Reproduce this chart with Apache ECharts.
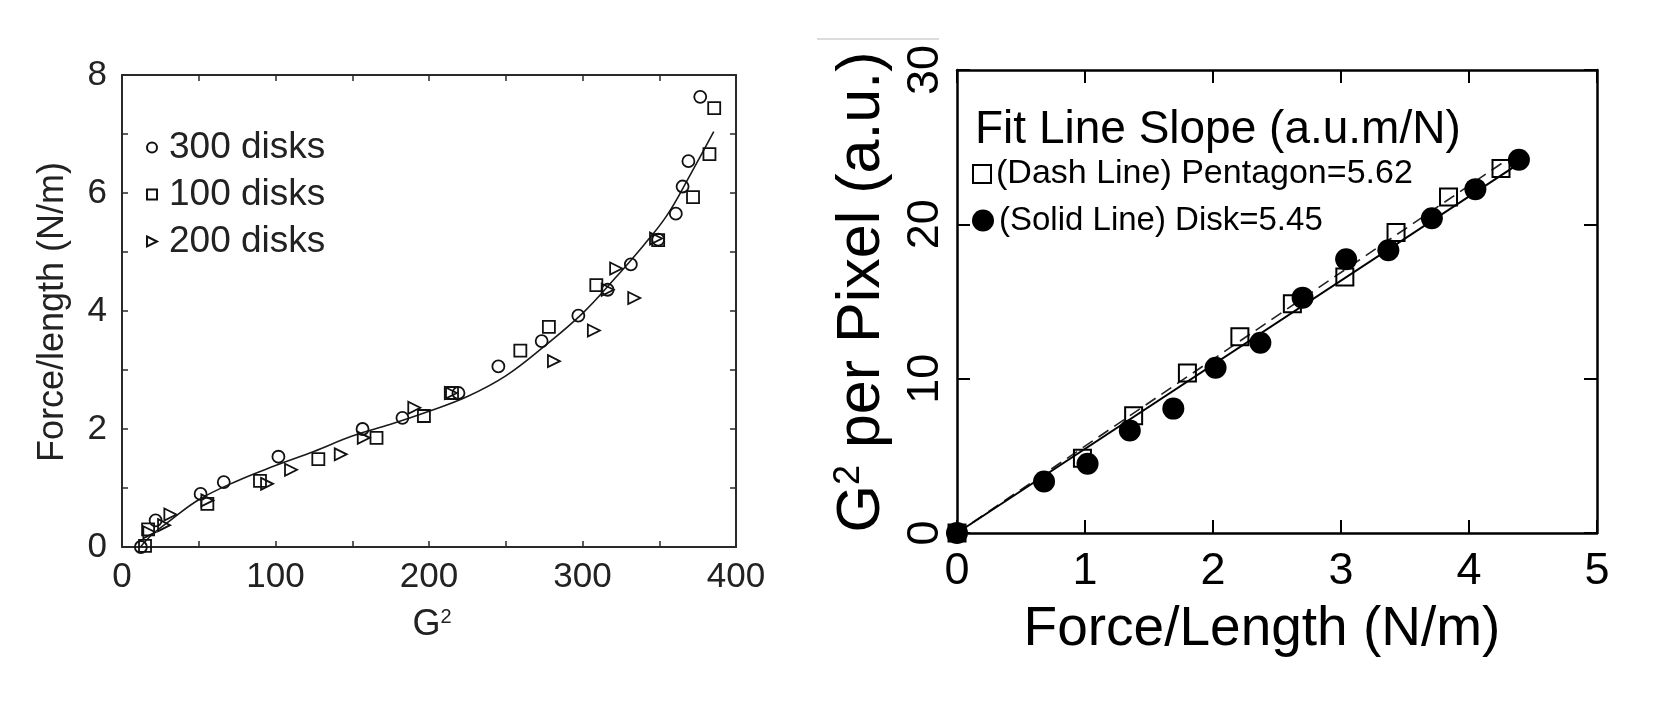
<!DOCTYPE html>
<html><head><meta charset="utf-8">
<script src="https://cdn.jsdelivr.net/npm/echarts@6/dist/echarts.min.js"></script>
<style>html,body{margin:0;padding:0;background:#fff}#c{width:1654px;height:709px}</style>
</head><body><div id="c"></div>
<script>
// ---------- data ----------
const leftXTicks = [0, 100, 200, 300, 400];
const leftYTicks = [0, 2, 4, 6, 8];
const rightXTicks = [0, 1, 2, 3, 4, 5];
const rightYTicks = [0, 10, 20, 30];

const disks300 = [[12.3,0],[21.9,0.45],[51.2,0.90],[66.3,1.10],[101.9,1.53],[156.7,2.0],[182.7,2.19],[219.2,2.61],[245.2,3.06],[273.4,3.49],[297.3,3.92],[316.4,4.36],[331.5,4.79],[349.3,5.21],[360.8,5.65],[365.2,6.11],[369.0,6.54],[376.7,7.63]];
const disks100 = [[15,0.02],[17,0.3],[55.6,0.73],[89.9,1.12],[127.9,1.49],[165.8,1.85],[196.7,2.22],[215,2.61],[259.5,3.33],[278.1,3.73],[309,4.44],[349.3,5.2],[372,5.93],[382.7,6.66],[385.8,7.44]];
const disks200 = [[17.8,0.25],[27.4,0.37],[31.5,0.55],[55.6,0.79],[94.5,1.07],[110.1,1.31],[142.5,1.57],[157.5,1.85],[190.4,2.36],[214.2,2.61],[281.4,3.15],[307.4,3.67],[316.4,4.36],[321.9,4.72],[333.7,4.22],[347.9,5.23]];
const fitCurve = [[12,0],[20,0.22],[30,0.42],[50,0.8],[75,1.12],[100,1.38],[125,1.62],[150,1.88],[175,2.08],[200,2.3],[225,2.55],[250,2.9],[275,3.4],[300,3.96],[320,4.52],[340,5.12],[355,5.62],[370,6.3],[385.5,7.04]];

const pentagon = [[0,0],[0.98,4.84],[1.38,7.6],[1.80,10.37],[2.21,12.72],[2.62,14.86],[3.03,16.59],[3.43,19.47],[3.84,21.77],[4.25,23.62]];
const disk = [[0,0],[0.68,3.34],[1.02,4.49],[1.35,6.64],[1.69,8.06],[2.02,10.71],[2.37,12.33],[2.70,15.25],[3.04,17.74],[3.37,18.32],[3.71,20.39],[4.05,22.28],[4.39,24.19]];
const dashFit = [[0,0],[4.3,24.2]];
const solidFit = [[0,0],[4.42,24.1]];

const leftLegend = ['300 disks', '100 disks', '200 disks'];
const rightLegend = ['(Dash Line) Pentagon=5.62', '(Solid Line) Disk=5.45'];
const rightLegendTitle = 'Fit Line Slope (a.u.m/N)';

// ---------- chart ----------
const FF = "'Liberation Sans', Arial, Helvetica, sans-serif";
const chart = echarts.init(document.getElementById('c'), null, {renderer: 'canvas'});

function axisBase(grid, min, max, interval, pos, color, width, tickLen, tickW) {
  return {
    type: 'value', gridIndex: grid, min: min, max: max, interval: interval, position: pos,
    splitLine: {show: false},
    axisLine: {show: true, onZero: false, lineStyle: {color: color, width: width}},
    axisTick: {show: true, inside: true, length: tickLen, lineStyle: {color: color, width: tickW}},
  };
}

const lx = axisBase(0, 0, 400, 50, 'bottom', '#2a2a2a', 2, 6, 1.5);
lx.axisLabel = {formatter: v => leftXTicks.includes(v) ? String(v) : '', fontSize: 35, color: '#222', fontFamily: FF, margin: 13};
const lxTop = axisBase(0, 0, 400, 50, 'top', '#2a2a2a', 2, 6, 1.5);
lxTop.axisLabel = {show: false};
const ly = axisBase(0, 0, 8, 1, 'left', '#2a2a2a', 2, 6, 1.5);
ly.axisLabel = {formatter: v => leftYTicks.includes(v) ? String(v) : '', fontSize: 35, color: '#222', fontFamily: FF, margin: 15};
const lyRight = axisBase(0, 0, 8, 1, 'right', '#2a2a2a', 2, 6, 1.5);
lyRight.axisLabel = {show: false};

const rx = axisBase(1, 0, 5, 1, 'bottom', '#000', 2.5, 13, 2);
rx.axisLabel = {formatter: v => rightXTicks.includes(v) ? String(v) : '', fontSize: 45, color: '#000', fontFamily: FF, margin: 16};
const rxTop = axisBase(1, 0, 5, 1, 'top', '#000', 2.5, 13, 2);
rxTop.axisLabel = {show: false};
const ry = axisBase(1, 0, 30, 10, 'left', '#000', 2.5, 13, 2);
ry.axisLabel = {formatter: v => rightYTicks.includes(v) ? String(v) : '', fontSize: 45, color: '#000', fontFamily: FF, margin: 9, rotate: 90};
const ryRight = axisBase(1, 0, 30, 10, 'right', '#000', 2.5, 13, 2);
ryRight.axisLabel = {show: false};

const openStyle = {color: 'rgba(255,255,255,0)', borderColor: '#111', borderWidth: 1.8, opacity: 1};
const triPath = 'path://M0,0L10,5L0,10Z';

const option = {
  backgroundColor: '#fff',
  animation: false,
  grid: [
    {left: 122, top: 75, width: 614, height: 472, outerBoundsMode: 'none', containLabel: false},
    {left: 957, top: 70, width: 640, height: 463, outerBoundsMode: 'none', containLabel: false}
  ],
  xAxis: [lx, lxTop, rx, rxTop],
  yAxis: [ly, lyRight, ry, ryRight],
  legend: [
    {data: leftLegend, orient: 'vertical', left: 141, top: 124, itemWidth: 10, itemHeight: 10, itemGap: 10,
     selectedMode: false, textStyle: {fontSize: 37, color: '#222', fontFamily: FF, padding: [0, 0, 0, 7]}},
    {data: [rightLegend[0]], left: 967, top: 152, itemWidth: 18, itemHeight: 18,
     selectedMode: false, textStyle: {fontSize: 34, color: '#000', fontFamily: FF}},
    {data: [rightLegend[1]], left: 967, top: 199, itemWidth: 22, itemHeight: 22,
     selectedMode: false, textStyle: {fontSize: 33, color: '#000', fontFamily: FF}}
  ],
  graphic: [
    {type: 'line', shape: {x1: 817, y1: 39, x2: 939, y2: 39}, style: {stroke: '#dcdcdc', lineWidth: 2}},
    {type: 'text', x: 432, y: 625, style: {text: '{a|G}{b|2}', rich: {a: {fontSize: 36, fontFamily: FF, fill: '#222'}, b: {fontSize: 20, fontFamily: FF, fill: '#222', verticalAlign: 'top'}},
      align: 'center', verticalAlign: 'middle', textAlign: 'center', textVerticalAlign: 'middle'}},
    {type: 'text', x: 53, y: 312, rotation: Math.PI / 2, style: {text: 'Force/length (N/m)', font: '36px ' + FF, fill: '#222',
      align: 'center', verticalAlign: 'middle', textAlign: 'center', textVerticalAlign: 'middle'}},
    {type: 'text', x: 862, y: 292, rotation: Math.PI / 2, style: {text: '{a|G}{b|2}{a| per Pixel (a.u.)}', rich: {a: {fontSize: 61, fontFamily: FF, fill: '#000'}, b: {fontSize: 36, fontFamily: FF, fill: '#000', verticalAlign: 'top'}},
      align: 'center', verticalAlign: 'middle', textAlign: 'center', textVerticalAlign: 'middle'}},
    {type: 'text', x: 1262, y: 630, style: {text: 'Force/Length (N/m)', font: '55px ' + FF, fill: '#000',
      align: 'center', verticalAlign: 'middle', textAlign: 'center', textVerticalAlign: 'middle'}},
    {type: 'text', x: 975, y: 130, style: {text: rightLegendTitle, font: '46px ' + FF, fill: '#000',
      align: 'left', verticalAlign: 'middle', textAlign: 'left', textVerticalAlign: 'middle'}}
  ],
  series: [
    {type: 'line', name: 'fit', xAxisIndex: 0, yAxisIndex: 0, data: fitCurve, smooth: 0.4, showSymbol: false,
     lineStyle: {color: '#1a1a1a', width: 1.6, opacity: 1}, z: 2, silent: true},
    {type: 'scatter', name: leftLegend[0], xAxisIndex: 0, yAxisIndex: 0, data: disks300, symbol: 'circle', symbolSize: 12, itemStyle: openStyle, z: 3},
    {type: 'scatter', name: leftLegend[1], xAxisIndex: 0, yAxisIndex: 0, data: disks100, symbol: 'rect', symbolSize: 12, itemStyle: openStyle, z: 3},
    {type: 'scatter', name: leftLegend[2], xAxisIndex: 0, yAxisIndex: 0, data: disks200, symbol: triPath, symbolSize: 12, itemStyle: openStyle, z: 3},
    {type: 'line', name: 'dashfit', xAxisIndex: 2, yAxisIndex: 2, data: dashFit, showSymbol: false,
     lineStyle: {color: '#222', width: 1.6, type: [12, 7], opacity: 1}, z: 2, silent: true},
    {type: 'line', name: 'solidfit', xAxisIndex: 2, yAxisIndex: 2, data: solidFit, showSymbol: false,
     lineStyle: {color: '#000', width: 2, opacity: 1}, z: 2, silent: true},
    {type: 'scatter', name: rightLegend[0], xAxisIndex: 2, yAxisIndex: 2, data: pentagon, symbol: 'rect', symbolSize: 17,
     itemStyle: {color: 'rgba(255,255,255,0)', borderColor: '#000', borderWidth: 2, opacity: 1}, z: 3},
    {type: 'scatter', name: rightLegend[1], xAxisIndex: 2, yAxisIndex: 2, data: disk, symbol: 'circle', symbolSize: 22,
     itemStyle: {color: '#000', opacity: 1}, z: 4}
  ]
};
chart.setOption(option);
</script>
</body></html>
